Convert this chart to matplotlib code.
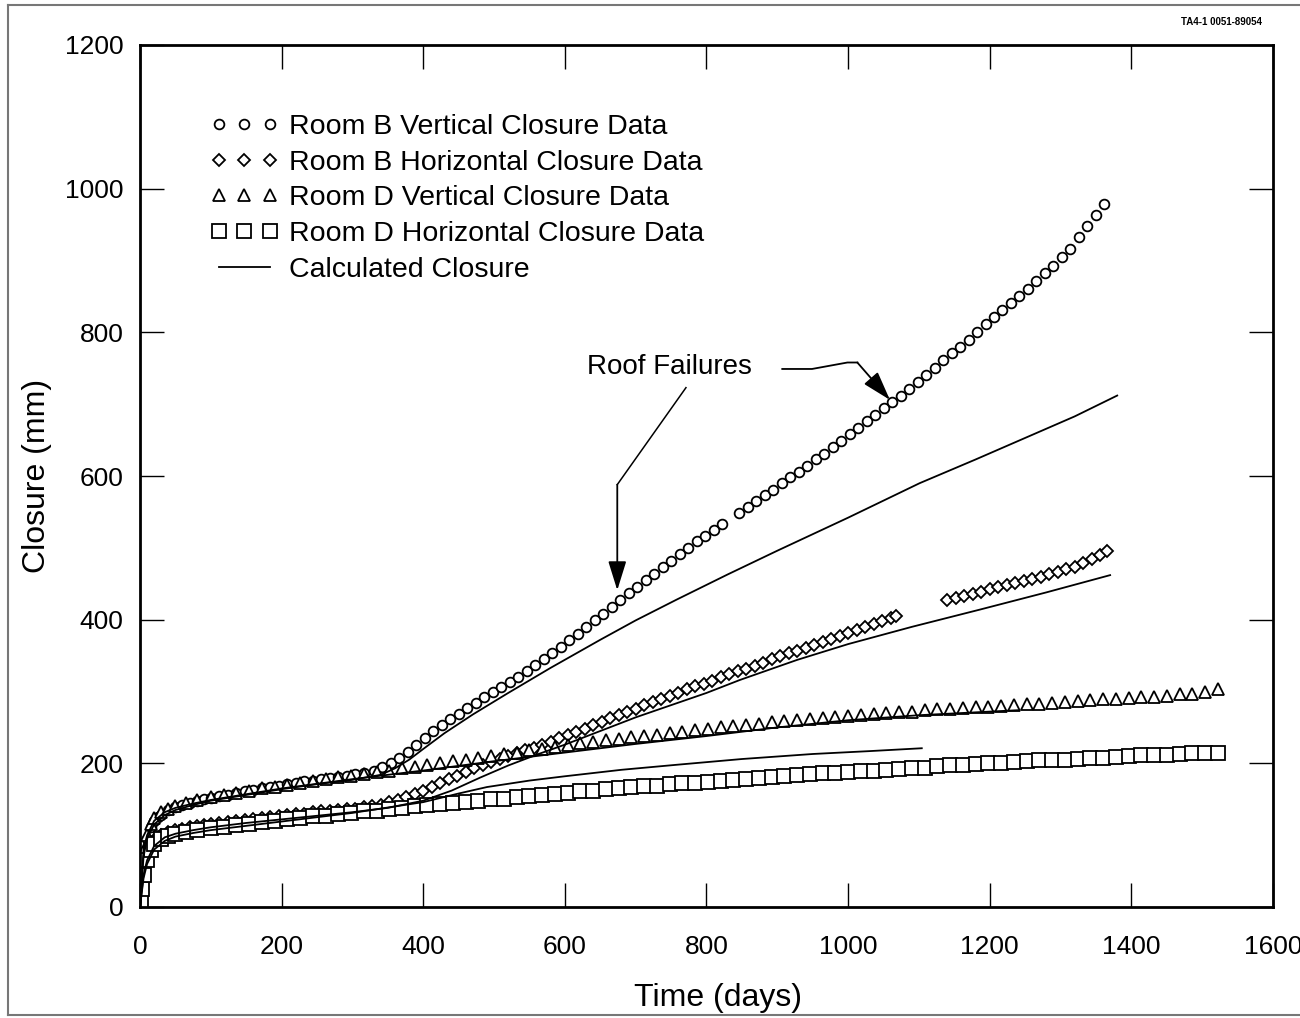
import matplotlib
matplotlib.use("Agg")
import matplotlib.pyplot as plt
from matplotlib.lines import Line2D

# Room B vertical closure data (days, mm)
bv_days = [1, 3, 6, 10, 15, 20, 25, 30, 40, 50, 60, 70, 80, 90, 100, 112, 124, 136, 148,
           160, 172, 184, 196, 208, 220, 232, 244, 256, 268, 280, 292, 304, 316,
           330, 342, 354, 366, 378, 390, 402, 414, 426, 438, 450, 462, 474, 486, 498,
           510, 522, 534, 546, 558, 570, 582, 594, 606, 618, 630, 642, 654, 666, 678,
           690, 702, 714, 726, 738, 750, 762, 774, 786, 798, 810, 822,
           846, 858, 870, 882, 894, 906, 918, 930, 942, 954, 966, 978, 990, 1002,
           1014, 1026, 1038, 1050, 1062, 1074, 1086, 1098, 1110, 1122, 1134, 1146,
           1158, 1170, 1182, 1194, 1206, 1218, 1230, 1242, 1254, 1266, 1278, 1290,
           1302, 1314, 1326, 1338, 1350, 1362]
bv_mm = [10, 40, 75, 95, 112, 120, 125, 128, 135, 139, 142, 145, 147, 150, 152, 154, 156, 159, 161,
         163, 165, 167, 169, 171, 173, 175, 176, 178, 180, 181, 183, 185, 187,
         190, 195, 200, 207, 216, 225, 235, 245, 254, 262, 269, 277, 284, 292, 299,
         306, 313, 320, 328, 337, 345, 353, 362, 371, 380, 390, 399, 408, 418, 427,
         437, 446, 455, 464, 473, 482, 491, 500, 509, 517, 525, 533,
         549, 557, 565, 573, 581, 590, 598, 606, 614, 623, 631, 640, 649, 658,
         667, 676, 685, 694, 703, 712, 721, 731, 741, 751, 761, 771,
         780, 790, 800, 811, 821, 831, 841, 851, 861, 871, 882, 893,
         905, 916, 933, 948, 963, 978]

# Room B horizontal closure data
bh_days = [1, 3, 6, 10, 15, 20, 25, 30, 40, 50, 60, 70, 80, 90, 100, 112, 124, 136, 148,
           160, 172, 184, 196, 208, 220, 232, 244, 256, 268, 280, 292, 304, 316,
           328, 340, 352, 364, 376, 388, 400, 412, 424, 436, 448, 460, 472, 484, 496,
           508, 520, 532, 544, 556, 568, 580, 592, 604, 616, 628, 640, 652, 664, 676,
           688, 700, 712, 724, 736, 748, 760, 772, 784, 796, 808, 820, 832, 844, 856,
           868, 880, 892, 904, 916, 928, 940, 952, 964, 976, 988, 1000, 1012, 1024,
           1036, 1048, 1060, 1068,
           1140, 1152, 1164, 1176, 1188, 1200, 1212, 1224, 1236, 1248, 1260, 1272,
           1284, 1296, 1308, 1320, 1332, 1344, 1356, 1366]
bh_mm = [8, 30, 55, 72, 85, 93, 97, 100, 104, 107, 109, 111, 113, 114, 115, 117, 118, 120, 121,
         123, 124, 125, 127, 128, 129, 130, 132, 133, 134, 135, 136, 137, 139,
         140, 142, 146, 149, 153, 157, 162, 167, 172, 178, 183, 188, 194, 198, 202,
         206, 210, 214, 218, 222, 226, 230, 235, 239, 243, 248, 253, 258, 263, 267,
         271, 276, 281, 285, 290, 294, 298, 303, 307, 311, 315, 320, 324, 328, 332,
         336, 340, 345, 349, 353, 356, 361, 365, 369, 373, 377, 381, 386, 390,
         394, 398, 402, 405,
         427, 430, 433, 436, 439, 442, 445, 448, 451, 454, 457, 460,
         463, 466, 470, 474, 479, 484, 490, 496]

# Room D vertical closure data
dv_days = [1, 3, 6, 10, 15, 20, 30, 40, 50, 65, 80,
           100, 118, 136, 154, 172, 190, 208, 226, 244, 262, 280, 298, 316, 334, 352,
           370, 388, 406, 424, 442, 460, 478, 496, 514, 532, 550, 568, 586, 604, 622,
           640, 658, 676, 694, 712, 730, 748, 766, 784, 802, 820, 838, 856, 874, 892,
           910, 928, 946, 964, 982, 1000, 1018, 1036, 1054, 1072, 1090, 1108, 1126,
           1144, 1162, 1180, 1198, 1216, 1234, 1252, 1270, 1288, 1306, 1324, 1342,
           1360, 1378, 1396, 1414, 1432, 1450, 1468, 1486, 1504, 1522]
dv_mm = [10, 45, 80, 100, 115, 124, 132, 137, 141, 145, 149,
         153, 156, 159, 162, 165, 167, 170, 173, 176, 178, 181, 183, 185, 188, 190,
         193, 195, 198, 200, 203, 205, 208, 210, 213, 215, 218, 220, 223, 225, 228,
         230, 232, 234, 236, 238, 240, 242, 244, 246, 248, 250, 252, 254, 255, 257,
         259, 260, 262, 263, 265, 266, 267, 269, 270, 271, 272, 274, 275,
         276, 277, 278, 279, 280, 281, 282, 283, 284, 285, 287, 288,
         289, 290, 291, 292, 293, 294, 296, 297, 299, 303]

# Room D horizontal closure data
dh_days = dv_days
dh_mm = [8, 25, 45, 65, 80, 88, 95, 99, 102, 105, 107,
         110, 112, 114, 116, 118, 120, 122, 124, 126, 127, 129, 131, 133, 134, 136,
         138, 140, 142, 143, 145, 146, 148, 150, 151, 153, 155, 156, 158, 159, 161,
         162, 164, 165, 167, 168, 169, 171, 172, 173, 174, 176, 177, 178, 180, 181,
         183, 184, 185, 186, 187, 188, 189, 190, 191, 192, 193, 194, 196,
         197, 198, 199, 200, 201, 202, 203, 204, 205, 205, 206, 207,
         208, 209, 210, 211, 211, 212, 213, 214, 214, 215]

# calculated closure curves
calc_bv_days = [0, 5, 10, 20, 35, 50, 75, 100, 150, 200, 250, 300, 340, 360, 380, 400,
                430, 470, 520, 580, 650, 700, 758, 830, 900, 1000, 1101, 1180, 1250,
                1320, 1380]
calc_bv_mm = [0, 70, 95, 115, 128, 135, 142, 148, 156, 164, 171, 177, 184, 193, 205, 220,
              242, 268, 298, 333, 372, 399, 428, 463, 496, 542, 590, 623, 653,
              683, 712]
calc_bh_days = [0, 5, 10, 20, 35, 50, 75, 100, 150, 200, 250, 300, 350, 400, 440, 480,
                520, 560, 600, 650, 700, 750, 800, 847, 928, 1000, 1090, 1186, 1280, 1370]
calc_bh_mm = [0, 45, 65, 85, 97, 102, 107, 111, 117, 122, 127, 132, 138, 148, 162, 180,
              197, 212, 226, 245, 264, 281, 298, 316, 344, 366, 390, 414, 438, 462]
calc_dv_days = [0, 5, 10, 20, 35, 50, 75, 100, 150, 200, 300, 400, 500, 600, 700, 800,
                900, 1000, 1100, 1240]
calc_dv_mm = [0, 80, 100, 120, 132, 138, 144, 149, 157, 165, 178, 190, 203, 215, 227, 238,
              250, 260, 267, 274]
calc_dh_days = [0, 5, 10, 20, 35, 50, 75, 100, 150, 200, 300, 400, 450, 490, 550, 600,
                680, 758, 850, 950, 1030, 1104]
calc_dh_mm = [0, 40, 60, 80, 92, 98, 103, 107, 113, 119, 131, 146, 158, 167, 176, 182,
              191, 198, 206, 213, 217, 221]

plt.rcParams["font.family"] = ["Liberation Sans", "DejaVu Sans"]

fig = plt.figure(figsize=(13, 10.18), dpi=100)
ax = fig.add_axes([140 / 1300, 111 / 1018, 1133 / 1300, 862 / 1018])

mk = dict(linestyle="none", mfc="white", mec="black", mew=1.3)
ax.plot(bv_days, bv_mm, marker="o", ms=7, label="Room B Vertical Closure Data", **mk)
ax.plot(bh_days, bh_mm, marker="D", ms=6.5, label="Room B Horizontal Closure Data", **mk)
ax.plot(dv_days, dv_mm, marker="^", ms=9, label="Room D Vertical Closure Data", **mk)
ax.plot(dh_days, dh_mm, marker="s", ms=10, label="Room D Horizontal Closure Data", **mk)

ax.plot(calc_bv_days, calc_bv_mm, color="black", lw=1.3, label="Calculated Closure")
ax.plot(calc_bh_days, calc_bh_mm, color="black", lw=1.3)
ax.plot(calc_dv_days, calc_dv_mm, color="black", lw=1.3)
ax.plot(calc_dh_days, calc_dh_mm, color="black", lw=1.3)

# roof failure annotation
ax.text(748, 752, "Roof Failures", fontsize=20, ha="center", va="center")
ax.plot([771, 674], [723, 588], color="black", lw=1.1)
ax.annotate("", xy=(674, 441), xytext=(674, 588),
            arrowprops=dict(arrowstyle="-|>,head_length=0.9,head_width=0.28",
                            mutation_scale=20, color="black", lw=1.3,
                            shrinkA=0, shrinkB=0))
ax.plot([907, 949, 999, 1013], [749, 749, 758, 758], color="black", lw=1.3)
ax.annotate("", xy=(1059, 706), xytext=(1013, 758),
            arrowprops=dict(arrowstyle="-|>,head_length=0.9,head_width=0.28",
                            mutation_scale=20, color="black", lw=1.3,
                            shrinkA=0, shrinkB=0))

ax.set_xlim(0, 1600)
ax.set_ylim(0, 1200)
ax.set_xticks(range(0, 1601, 200))
ax.set_yticks(range(0, 1201, 200))
ax.tick_params(direction="in", length=17, width=1.0, labelsize=19,
               top=True, right=True)
ax.tick_params(axis="y", pad=12)
ax.tick_params(axis="x", pad=20)
for s in ax.spines.values():
    s.set_linewidth(2.0)

ax.set_xlabel("Time (days)", fontsize=23)
ax.set_ylabel("Closure (mm)", fontsize=23)
ax.xaxis.set_label_coords(0.51, -0.088)
ax.yaxis.set_label_coords(-0.078, 0.5)

ax.legend(loc="upper left", bbox_to_anchor=(0.062, 0.92), frameon=False,
          numpoints=3, fontsize=20.5, handlelength=2.4, handletextpad=0.35,
          labelspacing=0.34, borderpad=0, borderaxespad=0)

fig.text(1262 / 1300, 1 - 22 / 1018, "TA4-1 0051-89054", fontsize=7,
         fontweight="bold", ha="right", va="center")

# scan border
for xs, ys in [([8 / 1300, 1], [1 - 5 / 1018, 1 - 5 / 1018]),
               ([8 / 1300, 8 / 1300], [3 / 1018, 1 - 5 / 1018]),
               ([8 / 1300, 1], [3 / 1018, 3 / 1018])]:
    fig.add_artist(Line2D(xs, ys, color="#777777", lw=1.5))

fig.savefig("out.png", dpi=100, facecolor="white")
